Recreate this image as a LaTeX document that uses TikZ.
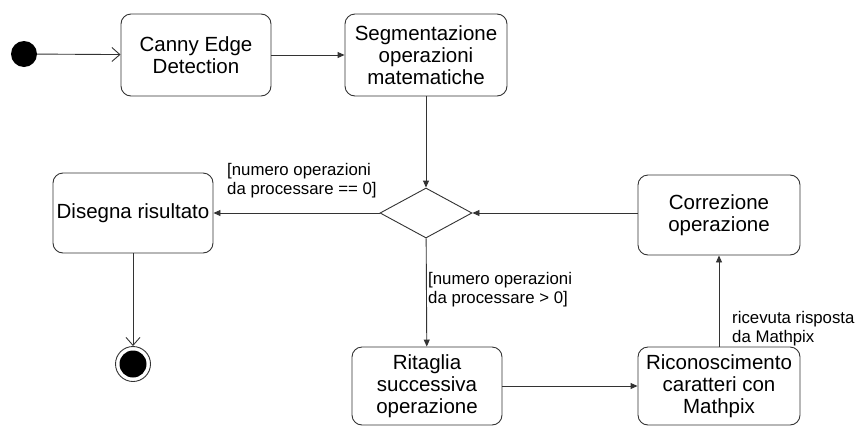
\documentclass[tikz,border=0pt]{standalone}
\usepackage{fontspec}
\setmainfont{Liberation Sans}
\usetikzlibrary{arrows.meta,shapes.geometric}
\begin{document}
\begin{tikzpicture}[x=1pt,y=-1pt,
  act/.style={draw=black!80, line width=0.9pt, rounded corners=10pt, align=center,
    font=\fontsize{20.5}{22}\selectfont, inner sep=0pt},
  lbl/.style={align=left, font=\fontsize{16.8}{19.5}\selectfont, inner sep=0pt},
  flow/.style={draw=black!80, line width=0.9pt, -{Triangle[length=7pt,width=6pt]}},
  openflow/.style={draw=black!80, line width=0.9pt, -{Straight Barb[length=8pt,width=14pt]}}]
\useasboundingbox (0,0) rectangle (859,426);
% start
\node (start) [circle, fill=black, minimum size=26pt, inner sep=0pt] at (24,54) {};
% activities
\node (canny) [act, minimum width=150pt, minimum height=82pt] at (196,55) {Canny Edge\\Detection};
\node (seg) [act, minimum width=162pt, minimum height=82pt] at (426,55) {Segmentazione\\operazioni\\matematiche};
\node (dec) [diamond, draw=black!80, line width=0.9pt, minimum width=92pt, minimum height=50pt, inner sep=0pt, aspect=1.84] at (426,213) {};
\node (dis) [act, minimum width=160pt, minimum height=80pt] at (133,213) {Disegna risultato};
\node (cor) [act, minimum width=162pt, minimum height=80pt] at (719,215) {Correzione\\operazione};
\node (rit) [act, minimum width=150pt, minimum height=78pt] at (427,386) {Ritaglia\\successiva\\operazione};
\node (ric) [act, minimum width=162pt, minimum height=78pt] at (719,386) {Riconoscimento\\caratteri con\\Mathpix};
% end
\node (endo) [circle, draw=black!80, line width=0.9pt, minimum size=35pt, inner sep=0pt] at (133,364) {};
\node (endi) [circle, fill=black, minimum size=27pt, inner sep=0pt] at (133,364) {};
% connectors
\draw[openflow] (start) -- (canny);
\draw[flow] (canny) -- (seg);
\draw[flow] (seg) -- (dec);
\draw[flow] (dec) -- (dis);
\draw[openflow] (dis) -- (endo);
\draw[flow] (dec) -- (rit);
\draw[flow] (rit) -- (ric);
\draw[flow] (ric) -- (cor);
\draw[flow] (cor.west |- dec.east) -- (dec.east);
% labels
\node (l1) [lbl, anchor=north west] at (227,163) {[numero operazioni\\da processare == 0]};
\node (l2) [lbl, anchor=north west] at (428,272) {[numero operazioni\\da processare > 0]};
\node (l3) [lbl, anchor=north west] at (732,311) {ricevuta risposta\\da Mathpix};
\end{tikzpicture}
\end{document}
